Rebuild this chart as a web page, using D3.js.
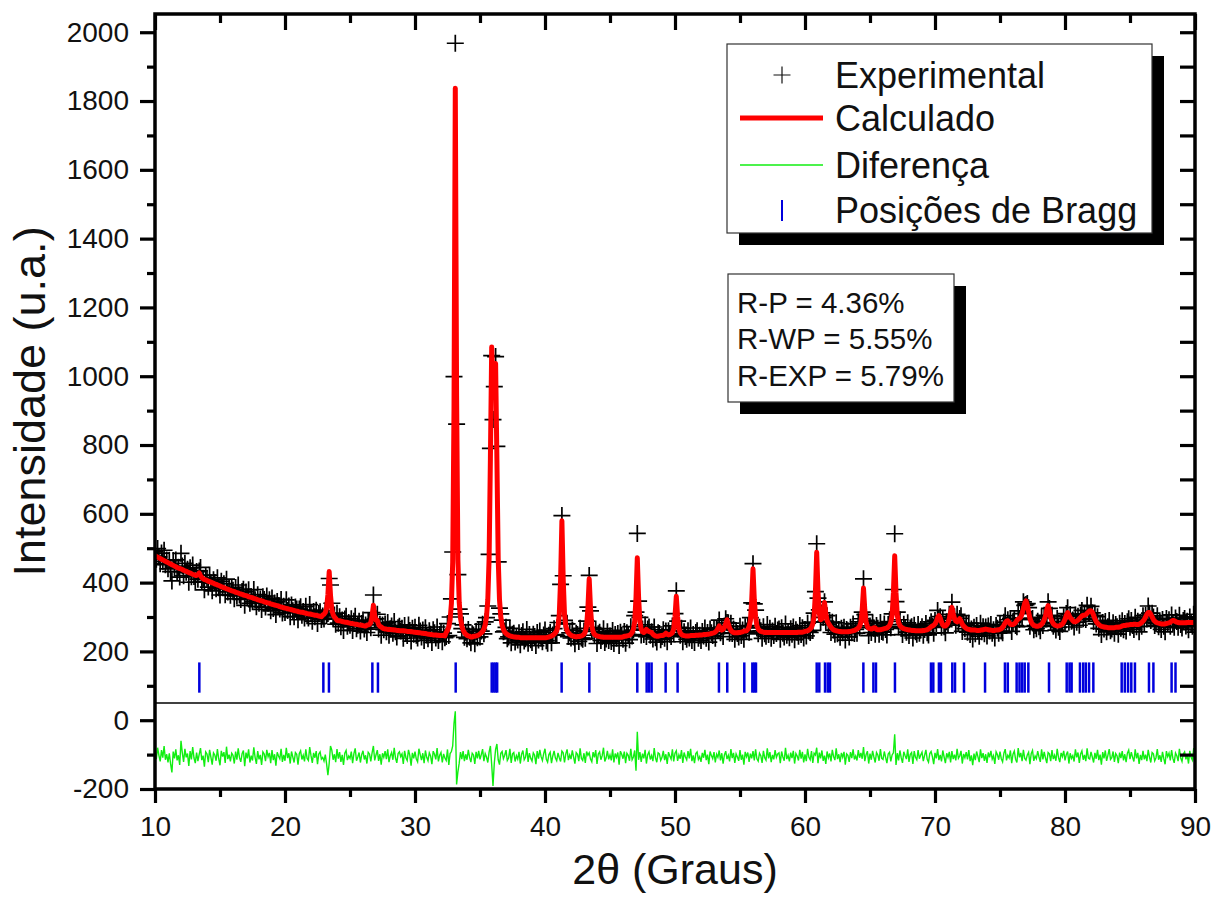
<!DOCTYPE html>
<html>
<head>
<meta charset="utf-8">
<script src="https://d3js.org/d3.v7.min.js"></script>
<style>
body { margin: 0; background: #fff; }
svg text { font-family: Arial, "Liberation Sans", sans-serif; fill: #111; }
</style>
</head>
<body>
<div id="chart"></div>
<script>
var w = 1215, h = 899;
var plotLeft = 155, plotRight = 1195, plotTop = 14, plotBottom = 789;

// 2theta grid of the refinement: 10.0 .. 90.0 step 0.1
var thetaStart = 10, thetaStep = 0.1;

// calculated profile (one row per degree)
var calcY = [
478,476,474,472,470,468,466,464,462,460,
458,456,454,452,450,448,446,444,442,441,
440,438,436,434,433,431,429,428,426,424,
423,421,421,424,428,420,415,411,409,408,
406,404,403,401,400,398,396,395,393,392,
390,388,387,385,384,382,381,379,378,376,
375,374,372,371,370,368,367,366,364,363,
362,361,359,358,357,356,354,353,352,350,
349,348,347,346,344,343,342,341,340,338,
337,336,335,334,333,332,330,329,328,327,
326,325,324,323,322,321,320,319,318,317,
316,315,314,314,313,312,311,310,309,309,
308,307,306,305,305,304,303,302,301,306,
308,313,326,365,432,363,322,307,300,296,
290,289,289,288,287,286,285,285,284,283,
282,281,281,280,279,279,278,277,277,276,
275,274,274,276,277,279,284,303,334,305,
291,290,278,273,271,268,266,265,265,264,
264,264,263,263,262,262,261,261,260,260,
260,260,259,259,258,258,258,257,257,256,
256,255,255,254,254,253,253,252,252,251,
250,250,249,249,248,248,248,247,247,246,
246,246,246,245,255,261,271,292,339,459,
904,1837,943,468,343,297,274,262,255,250,
247,245,244,242,242,244,244,245,246,248,
251,254,258,265,278,300,350,470,760,1085,
960,990,1037,760,470,350,300,277,264,256,
252,249,247,245,244,243,242,242,241,241,
241,240,240,240,240,240,240,240,240,240,
240,240,240,240,240,240,240,240,240,240,
240,240,241,242,243,245,247,250,254,260,
274,308,410,580,410,308,274,260,254,250,
247,245,244,243,242,243,243,244,245,247,
250,257,274,326,411,326,274,257,250,247,
245,244,243,242,242,241,241,241,241,241,
241,241,241,241,241,241,241,241,241,241,
242,244,244,245,246,247,250,255,264,287,
356,472,356,287,264,257,255,258,264,260,
258,256,255,250,247,245,244,244,245,246,
246,247,249,253,250,248,249,251,254,266,
301,360,301,266,254,249,247,246,245,245,
245,245,246,246,246,246,247,247,247,248,
248,248,249,249,249,250,250,251,252,253,
254,256,260,266,274,266,262,264,270,280,
292,280,268,261,257,255,254,254,254,255,
255,256,257,259,259,260,264,272,290,347,
440,350,300,275,265,261,258,257,256,255,
255,255,255,255,255,255,255,255,255,255,
255,255,255,255,255,255,255,255,255,255,
255,255,255,255,255,256,256,256,256,257,
258,259,260,262,265,270,280,302,370,488,
375,310,292,295,312,342,310,290,282,276,
270,266,263,261,260,259,258,258,257,257,
257,257,257,257,258,258,259,260,261,263,
265,268,273,285,321,384,321,285,272,267,
266,265,266,269,268,264,263,263,263,264,
265,266,267,268,271,275,284,305,370,478,
370,305,284,275,271,268,266,265,264,263,
262,262,261,261,261,260,260,260,260,260,
260,261,261,262,263,265,268,272,274,276,
280,287,298,304,297,285,277,274,274,277,
283,295,315,328,310,296,288,286,290,295,
288,279,274,270,267,265,264,263,262,262,
262,262,261,261,261,262,262,263,264,265,
264,263,262,262,261,261,261,262,262,263,
264,266,270,276,283,288,289,284,279,278,
278,280,284,290,294,296,300,310,325,340,
347,335,315,296,285,279,276,274,273,273,
274,276,279,284,292,303,322,333,318,298,
287,281,277,275,274,274,275,277,280,285,
293,305,313,306,298,294,289,286,286,288,
291,295,299,303,305,305,307,311,315,318,
318,314,305,295,287,282,278,275,273,272,
271,270,270,269,269,269,269,269,269,270,
270,270,271,272,274,275,275,276,277,277,
278,278,278,279,279,278,278,279,281,284,
288,293,300,308,313,313,308,300,293,288,
285,283,282,281,280,280,280,280,281,282,
283,285,288,290,289,287,285,284,283,283,
283,283,283,283,284,284,284,284,284,284,
284
];

// observed minus calculated, same grid
var resid = [
12,-8,25,3,-15,18,-4,30,-10,6,
-18,9,-22,-47,14,-6,20,-12,3,-25,
45,10,-16,22,-3,8,-28,15,-9,27,
-5,-20,11,-14,6,24,-11,2,-30,13,
7,-17,19,-2,-24,10,4,-13,21,-7,
-26,16,-1,12,-19,28,-8,5,-15,9,
3,-21,14,-10,23,-4,-16,8,17,-29,
11,-6,20,-18,2,-12,26,-3,-22,15,
-9,4,-25,13,7,-14,19,-1,10,-20,
18,-11,6,-27,12,1,-7,22,-16,4,
-13,25,-5,9,-21,14,-2,-18,11,6,
-24,8,16,-9,3,-15,20,-6,-12,27,
2,-19,10,-4,15,-23,7,13,-8,-3,
-14,5,-22,-55,-20,30,18,-10,6,-17,
21,-7,12,-16,4,-25,9,17,-11,1,
-6,14,-20,8,23,-13,-2,11,-18,5,
16,-9,3,-21,12,7,-15,10,30,-12,
4,18,-13,6,-24,9,-3,15,-8,20,
-17,2,11,-10,25,-5,-19,8,13,-1,
7,-22,16,-4,-12,19,3,-27,10,-6,
14,-8,-16,22,5,-11,9,-20,17,-3,
-13,10,1,-23,15,6,-9,24,-15,3,
11,-18,7,-5,-12,20,-25,8,14,30,
95,131,-82,-45,-20,12,-8,15,-14,6,
-10,19,-3,-17,9,4,-22,13,-6,16,
-9,5,21,-14,8,-2,-18,12,30,-25,
-86,-20,20,36,-10,-24,9,14,-7,3,
18,-12,-5,22,-19,7,11,-15,2,-8,
13,-21,6,17,-10,-3,24,-16,9,-6,
-14,10,3,-23,15,-7,19,-1,-12,8,
22,-9,-17,5,12,-20,1,16,-5,-13,
10,-4,-15,15,10,-18,7,20,-11,4,
-8,17,-2,-21,11,6,-14,23,-6,-12,
9,-19,14,3,10,-8,-16,12,-3,18,
-22,7,13,-10,2,25,-15,-5,16,-9,
4,-12,20,-18,8,-3,11,-24,15,6,
-7,14,-20,9,3,-13,22,-10,-2,17,
-42,71,-10,12,-16,8,-6,19,-21,5,
13,-9,2,-14,24,-5,-17,10,7,-12,
-3,16,-11,6,-22,12,1,-8,20,-15,
9,16,-13,4,-7,18,-19,11,-2,-10,
15,-6,22,-14,3,-20,8,13,-9,-1,
-16,10,-4,19,-11,5,-23,14,2,-7,
12,-18,6,-3,17,-12,9,-21,4,15,
-8,3,-15,21,-5,10,-19,7,-2,-13,
18,-10,5,-24,13,-1,11,-16,8,-6,
15,-12,20,-7,-14,9,2,-19,16,-4,
-11,23,-6,12,-17,4,-9,18,-3,7,
10,-20,14,-2,-13,25,-8,3,-15,11,
-5,16,-21,8,1,-12,19,-7,13,-18,
6,-14,22,-3,-10,15,-19,9,4,25,
-20,11,-6,17,-13,2,-22,14,-4,8,
-15,19,-1,-11,23,-8,6,-17,10,-3,
13,-24,7,3,-16,12,-5,20,-9,1,
-12,18,-4,10,-7,27,-14,5,15,-21,
8,-10,16,-2,-18,11,4,-13,21,-6,
-9,14,-3,-20,7,12,-15,4,10,64,
-25,9,-12,17,-4,-19,13,2,-8,20,
-16,6,11,-22,15,-3,-10,18,-7,4,
12,-14,3,19,-9,-17,8,14,-1,-23,
10,-6,21,-11,4,-15,17,-2,-20,9,
-3,13,-18,15,-8,5,-12,22,-6,1,
16,-21,7,-4,12,-9,18,-14,3,-26,
8,-11,14,-1,-17,20,-5,9,-13,6,
-19,11,-3,16,-8,2,-22,13,5,-10,
14,-7,-16,9,21,-12,3,-5,17,-20,
6,15,-9,-18,24,-3,10,-14,19,-6,
-11,4,12,-23,8,17,-13,1,-7,15,
-2,-16,20,-9,13,-5,-20,11,7,-14,
18,-8,3,-13,22,-4,-17,10,-1,16,
-12,5,14,-21,9,-6,2,-15,20,-3,
11,-19,7,16,-10,4,-14,23,-5,-8,
13,-2,-18,10,-7,19,-11,5,-24,12,
-6,17,-13,3,21,-9,-4,14,-16,8,
2,-20,11,-5,15,-12,6,-17,9,18,
-8,12,-3,-15,20,-6,10,-22,4,-11,
16,-9,5,-14,19,-2,-18,11,7,-13,
-4,21,-10,3,-16,13,-7,-23,15,-1,
9,-12,18,-6,-19,10,2,-14,22,-5,
-15,7,13,-9,4,-21,16,-3,-11,24,
-28
];
var diffOffset = -105;

// Bragg reflection positions (2theta)
var braggPos = [13.41, 22.95, 23.38, 26.72, 27.15, 33.13, 35.9, 36.05, 36.2, 36.32,
  41.28, 43.41, 47.1, 47.82, 48.0, 48.2, 49.28, 50.2, 53.38, 54.02,
  55.33, 55.95, 56.1, 56.23, 60.9, 61.1, 61.54, 61.75, 61.92, 64.49,
  65.26, 65.46, 66.92, 69.69, 69.87, 70.3, 70.46, 71.33, 71.54, 72.23,
  73.85, 75.38, 75.6, 76.28, 76.5, 76.7, 76.9, 77.18, 78.77, 80.13,
  80.35, 80.51, 81.15, 81.4, 81.6, 81.85, 82.18, 84.36, 84.6, 84.85,
  85.1, 85.38, 86.46, 86.8, 88.2, 88.5];
var braggLow = 80, braggHigh = 168;
var baseLineValue = 50;

var xMajor = [10, 20, 30, 40, 50, 60, 70, 80, 90];
var xMinor = [15, 25, 35, 45, 55, 65, 75, 85];
var yMajor = [-200, 0, 200, 400, 600, 800, 1000, 1200, 1400, 1600, 1800, 2000];
var yMinor = [-100, 100, 300, 500, 700, 900, 1100, 1300, 1500, 1700, 1900];

var legendLabels = ["Experimental", "Calculado", "Diferença", "Posições de Bragg"];
var statsLines = ["R-P = 4.36%", "R-WP = 5.55%", "R-EXP = 5.79%"];

var data = calcY.map(function(c, i) {
  return {t: thetaStart + i * thetaStep, calc: c, obs: c + resid[i], diff: resid[i] + diffOffset};
});

var x = d3.scaleLinear().domain([10, 90]).range([plotLeft, plotRight]);
var y = d3.scaleLinear().domain([-200, 2053]).range([plotBottom, plotTop]);

var svg = d3.select("#chart").append("svg")
  .attr("width", w)
  .attr("height", h);

svg.append("defs").append("clipPath").attr("id", "clip")
  .append("rect")
  .attr("x", plotLeft).attr("y", plotTop)
  .attr("width", plotRight - plotLeft).attr("height", plotBottom - plotTop);

var plot = svg.append("g").attr("clip-path", "url(#clip)");

// experimental points as crosses
plot.append("g").selectAll("path")
  .data(data)
  .join("path")
  .attr("transform", function(d) { return "translate(" + x(d.t) + "," + y(d.obs) + ")"; })
  .attr("d", "M-8.5,0H8.5M0,-8.5V8.5")
  .attr("stroke", "#000")
  .attr("stroke-width", 1.7)
  .attr("fill", "none");

// calculated
plot.append("path")
  .datum(data)
  .attr("d", d3.line().x(function(d) { return x(d.t); }).y(function(d) { return y(d.calc); }))
  .attr("fill", "none")
  .attr("stroke", "#ff0000")
  .attr("stroke-width", 5)
  .attr("stroke-linejoin", "round");

// difference
plot.append("path")
  .datum(data)
  .attr("d", d3.line().x(function(d) { return x(d.t); }).y(function(d) { return y(d.diff); }))
  .attr("fill", "none")
  .attr("stroke", "#11ee11")
  .attr("stroke-width", 1.4);

// bragg positions
plot.append("g").selectAll("line")
  .data(braggPos)
  .join("line")
  .attr("x1", function(d) { return x(d); })
  .attr("x2", function(d) { return x(d); })
  .attr("y1", y(braggLow))
  .attr("y2", y(braggHigh))
  .attr("stroke", "#0000dd")
  .attr("stroke-width", 2.5);

svg.append("line")
  .attr("x1", plotLeft).attr("x2", plotRight)
  .attr("y1", y(baseLineValue)).attr("y2", y(baseLineValue))
  .attr("stroke", "#000")
  .attr("stroke-width", 1.3);

// axes
function styleAxis(g) {
  g.select(".domain").remove();
  g.selectAll(".tick line").style("stroke", "#000").style("stroke-width", "3.2px");
  g.selectAll(".tick text").style("font-size", "28px").style("font-family", "Arial, 'Liberation Sans', sans-serif").attr("fill", "#111");
}
var plain = function(d) { return String(d); };

svg.append("g").attr("transform", "translate(" + plotLeft + ",0)")
  .call(d3.axisLeft(y).tickValues(yMajor).tickSize(15).tickPadding(11).tickFormat(plain))
  .call(styleAxis);
svg.append("g").attr("transform", "translate(" + plotLeft + ",0)")
  .call(d3.axisLeft(y).tickValues(yMinor).tickSize(8).tickFormat(""))
  .call(styleAxis);

svg.append("g").attr("transform", "translate(0," + plotBottom + ")")
  .call(d3.axisBottom(x).tickValues(xMajor).tickSize(14).tickPadding(13).tickFormat(plain))
  .call(styleAxis);
svg.append("g").attr("transform", "translate(0," + plotBottom + ")")
  .call(d3.axisBottom(x).tickValues(xMinor).tickSize(8).tickFormat(""))
  .call(styleAxis);

svg.append("g").attr("transform", "translate(0," + plotTop + ")")
  .call(d3.axisTop(x).tickValues(xMajor).tickSize(-16).tickFormat(""))
  .call(styleAxis);
svg.append("g").attr("transform", "translate(0," + plotTop + ")")
  .call(d3.axisTop(x).tickValues(xMinor).tickSize(-9).tickFormat(""))
  .call(styleAxis);

svg.append("g").attr("transform", "translate(" + plotRight + ",0)")
  .call(d3.axisRight(y).tickValues(yMajor.concat(yMinor)).tickSize(-15).tickFormat(""))
  .call(styleAxis);

svg.append("rect")
  .attr("x", plotLeft).attr("y", plotTop)
  .attr("width", plotRight - plotLeft).attr("height", plotBottom - plotTop)
  .attr("fill", "none")
  .attr("stroke", "#000")
  .attr("stroke-width", 3.5);

// axis titles
svg.append("text")
  .attr("x", (plotLeft + plotRight) / 2)
  .attr("y", 884)
  .attr("text-anchor", "middle")
  .style("font-size", "43px")
  .text("2θ (Graus)");

svg.append("text")
  .attr("transform", "translate(45," + ((plotTop + plotBottom) / 2) + ") rotate(-90)")
  .attr("text-anchor", "middle")
  .style("font-size", "45px")
  .text("Intensidade (u.a.)");

// legend
var lg = svg.append("g");
lg.append("rect").attr("x", 739).attr("y", 56).attr("width", 425).attr("height", 189).attr("fill", "#000");
lg.append("rect").attr("x", 727).attr("y", 44).attr("width", 425).attr("height", 189)
  .attr("fill", "#fff").attr("stroke", "#333").attr("stroke-width", 1.2);

var rowY = [75, 118, 165, 210];
lg.selectAll("text.lab")
  .data(legendLabels)
  .join("text")
  .attr("class", "lab")
  .attr("x", 835)
  .attr("y", function(d, i) { return rowY[i]; })
  .attr("dy", "0.36em")
  .style("font-size", "36px")
  .text(function(d) { return d; });

lg.append("path").attr("d", "M773.5," + rowY[0] + "H790.5M782," + (rowY[0] - 8.5) + "V" + (rowY[0] + 8.5))
  .attr("stroke", "#111").attr("stroke-width", 1.2);
lg.append("line").attr("x1", 740).attr("x2", 823).attr("y1", rowY[1]).attr("y2", rowY[1])
  .attr("stroke", "#ff0000").attr("stroke-width", 5);
lg.append("line").attr("x1", 740).attr("x2", 823).attr("y1", rowY[2]).attr("y2", rowY[2])
  .attr("stroke", "#11ee11").attr("stroke-width", 1.4);
lg.append("line").attr("x1", 782).attr("x2", 782).attr("y1", rowY[3] - 10).attr("y2", rowY[3] + 11)
  .attr("stroke", "#0000dd").attr("stroke-width", 2);

// refinement factors
var st = svg.append("g");
st.append("rect").attr("x", 740).attr("y", 286).attr("width", 226).attr("height", 128).attr("fill", "#000");
st.append("rect").attr("x", 728).attr("y", 274).attr("width", 226).attr("height", 128)
  .attr("fill", "#fff").attr("stroke", "#333").attr("stroke-width", 1.2);
st.selectAll("text")
  .data(statsLines)
  .join("text")
  .attr("x", 737)
  .attr("y", function(d, i) { return 302 + i * 36.7; })
  .attr("dy", "0.36em")
  .style("font-size", "29.5px")
  .text(function(d) { return d; });
</script>
</body>
</html>
